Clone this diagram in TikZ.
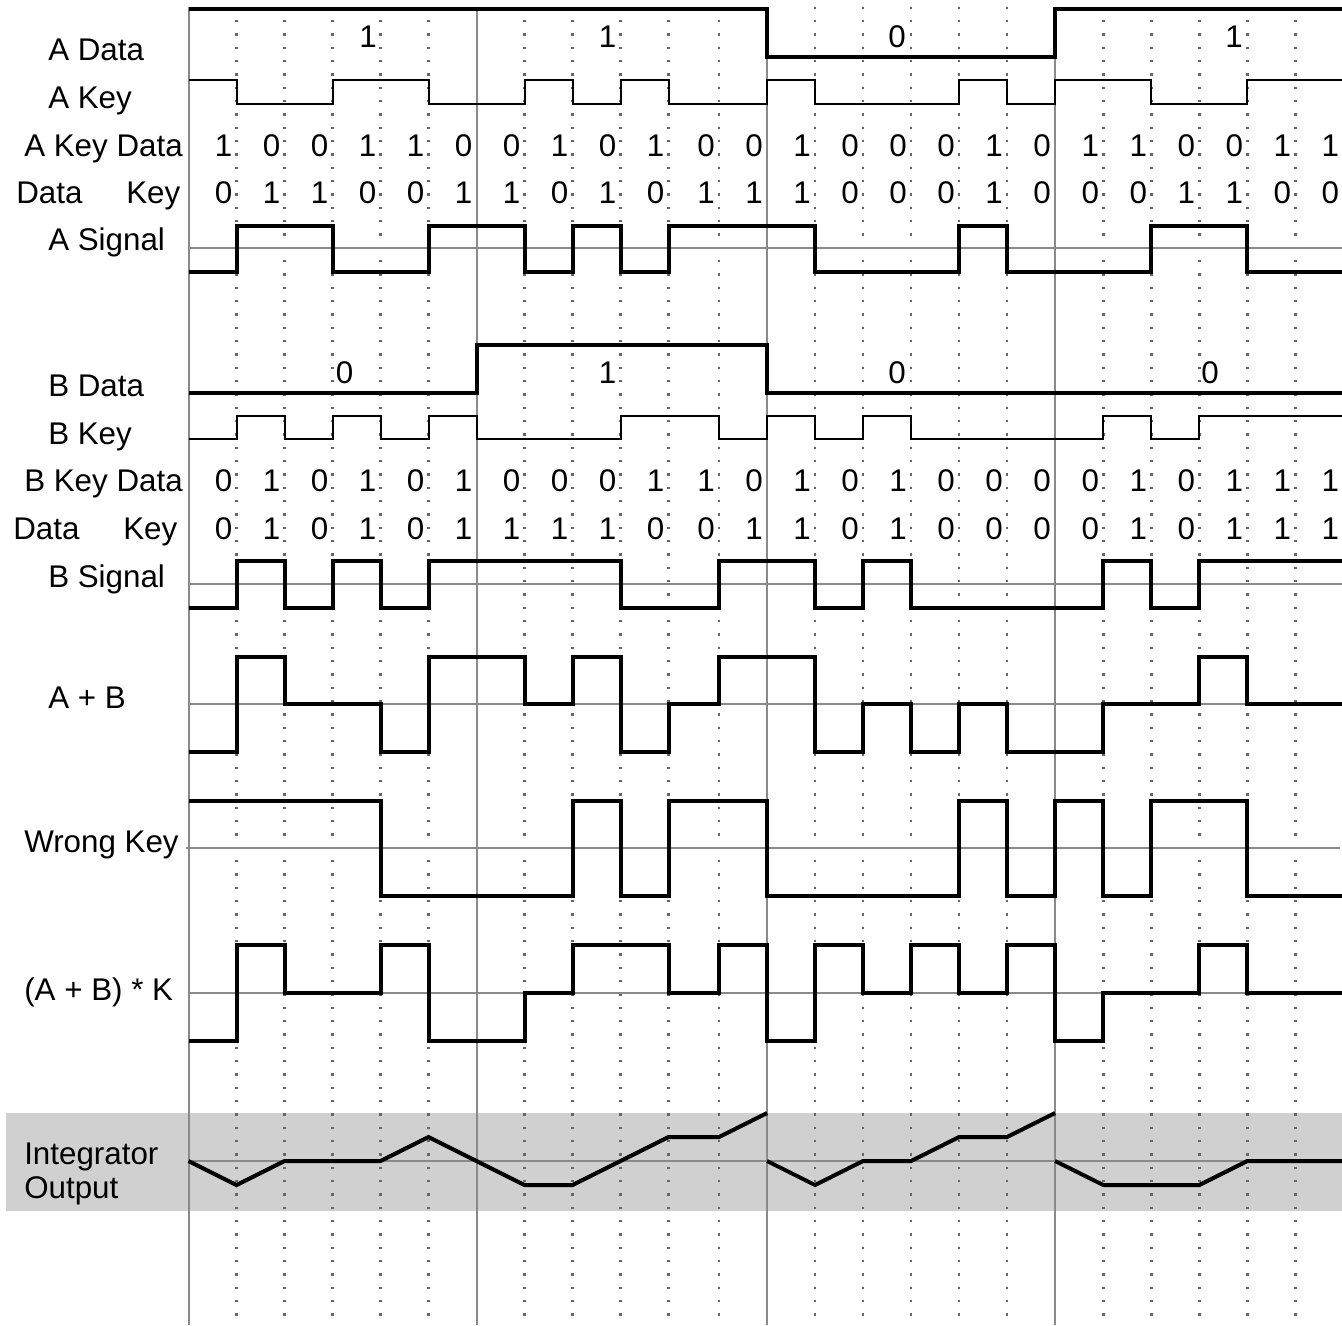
\documentclass[tikz,border=0pt]{standalone}
\usepackage{fontspec}
\setmainfont{Liberation Sans}
\definecolor{gridgray}{HTML}{8A8A8A}
\definecolor{dotgray}{HTML}{666666}
\definecolor{bandgray}{HTML}{D0D0D0}
\begin{document}
\begin{tikzpicture}[x=0.75pt,y=-0.75pt,
  every node/.style={inner sep=0pt,font=\fontsize{23.5}{28}\selectfont},
  lbl/.style={anchor=base west},
  dig/.style={anchor=base},
  sig/.style={draw=black,line width=3pt,line join=miter},
  keysig/.style={draw=black,line width=1.5pt,line join=miter},
  gridline/.style={draw=gridgray,line width=1.5pt},
  midline/.style={draw=gridgray,line width=1.5pt},
  dotline/.style={draw=dotgray,line width=1.8pt,dash pattern=on 1.8pt off 8.2pt}]
\useasboundingbox (0,0) rectangle (1342,1325);
\def\Xarr{{188.5,236.5,284.5,332.5,380.5,428.5,476.5,524.5,572.5,620.5,668.5,719,767,815,863,911,959,1007,1055,1103.3,1151.3,1199.3,1247.3,1295.3,1343.3}}
% integrator band
\fill[bandgray] (6,1113) rectangle (1342,1211);
% grid
\foreach \k in {1,2,3,4,5,7,8,9,10,11,13,14,15,16,17,19,20,21,22,23}{
  \pgfmathsetmacro\xx{\Xarr[\k]}
  \draw[dotline] (\xx,6.5) -- (\xx,1325);
}
\foreach \xx in {188.5,476.5,767,1055}{
  \draw[gridline] (\xx,7) -- (\xx,1325);
}
% midlines
\draw[midline] (188.5,248) -- (1342,248);
\draw[midline] (188.5,584) -- (1342,584);
\draw[midline] (188.5,704) -- (1342,704);
\draw[midline] (186,848) -- (1340,848);
\draw[midline] (188.5,993) -- (1342,993);
\draw[midline] (188.5,1161) -- (1342,1161);
% A Data
\draw[sig] (188.5,9) -- (767,9) -- (767,57) -- (1055,57) -- (1055,9) -- (1342,9);
% A Key
\draw[keysig] (188.5,80) -- (236.5,80) -- (236.5,104) -- (332.5,104) -- (332.5,80) -- (428.5,80) -- (428.5,104)
  -- (524.5,104) -- (524.5,80) -- (572.5,80) -- (572.5,104) -- (620.5,104) -- (620.5,80) -- (668.5,80) -- (668.5,104)
  -- (767,104) -- (767,80) -- (815,80) -- (815,104) -- (959,104) -- (959,80) -- (1007,80) -- (1007,104)
  -- (1055,104) -- (1055,80) -- (1151.3,80) -- (1151.3,104) -- (1247.3,104) -- (1247.3,80) -- (1342,80);
% A Signal
\draw[sig] (188.5,272) -- (236.5,272) -- (236.5,226) -- (332.5,226) -- (332.5,272) -- (428.5,272) -- (428.5,226)
  -- (524.5,226) -- (524.5,272) -- (572.5,272) -- (572.5,226) -- (620.5,226) -- (620.5,272) -- (668.5,272) -- (668.5,226)
  -- (815,226) -- (815,272) -- (959,272) -- (959,226) -- (1007,226) -- (1007,272)
  -- (1151.3,272) -- (1151.3,226) -- (1247.3,226) -- (1247.3,272) -- (1342,272);
% B Data
\draw[sig] (188.5,393) -- (476.5,393) -- (476.5,345) -- (767,345) -- (767,393) -- (1342,393);
% B Key
\draw[keysig] (188.5,439) -- (236.5,439) -- (236.5,416) -- (284.5,416) -- (284.5,439) -- (332.5,439) -- (332.5,416)
  -- (380.5,416) -- (380.5,439) -- (428.5,439) -- (428.5,416) -- (476.5,416) -- (476.5,439)
  -- (620.5,439) -- (620.5,416) -- (719,416) -- (719,439) -- (767,439) -- (767,416) -- (815,416) -- (815,439)
  -- (863,439) -- (863,416) -- (911,416) -- (911,439) -- (1103.3,439) -- (1103.3,416) -- (1151.3,416) -- (1151.3,439)
  -- (1199.3,439) -- (1199.3,416) -- (1342,416);
% B Signal
\draw[sig] (188.5,608) -- (236.5,608) -- (236.5,561) -- (284.5,561) -- (284.5,608) -- (332.5,608) -- (332.5,561)
  -- (380.5,561) -- (380.5,608) -- (428.5,608) -- (428.5,561) -- (620.5,561) -- (620.5,608) -- (719,608) -- (719,561)
  -- (815,561) -- (815,608) -- (863,608) -- (863,561) -- (911,561) -- (911,608) -- (1103.3,608) -- (1103.3,561)
  -- (1151.3,561) -- (1151.3,608) -- (1199.3,608) -- (1199.3,561) -- (1342,561);
% A + B
\draw[sig] (188.5,752) -- (236.5,752) -- (236.5,657) -- (284.5,657) -- (284.5,704) -- (380.5,704) -- (380.5,752)
  -- (428.5,752) -- (428.5,657) -- (524.5,657) -- (524.5,704) -- (572.5,704) -- (572.5,657) -- (620.5,657) -- (620.5,752)
  -- (668.5,752) -- (668.5,704) -- (719,704) -- (719,657) -- (815,657) -- (815,752) -- (863,752) -- (863,704)
  -- (911,704) -- (911,752) -- (959,752) -- (959,704) -- (1007,704) -- (1007,752) -- (1103.3,752) -- (1103.3,704)
  -- (1199.3,704) -- (1199.3,657) -- (1247.3,657) -- (1247.3,704) -- (1342,704);
% Wrong Key
\draw[sig] (188.5,801) -- (380.5,801) -- (380.5,896) -- (572.5,896) -- (572.5,801) -- (620.5,801) -- (620.5,896)
  -- (668.5,896) -- (668.5,801) -- (767,801) -- (767,896) -- (959,896) -- (959,801) -- (1007,801) -- (1007,896)
  -- (1055,896) -- (1055,801) -- (1103.3,801) -- (1103.3,896) -- (1151.3,896) -- (1151.3,801) -- (1247.3,801)
  -- (1247.3,896) -- (1342,896);
% (A + B) * K
\draw[sig] (188.5,1041) -- (236.5,1041) -- (236.5,945) -- (284.5,945) -- (284.5,993) -- (380.5,993) -- (380.5,945)
  -- (428.5,945) -- (428.5,1041) -- (524.5,1041) -- (524.5,993) -- (572.5,993) -- (572.5,945) -- (668.5,945)
  -- (668.5,993) -- (719,993) -- (719,945) -- (767,945) -- (767,1041) -- (815,1041) -- (815,945) -- (863,945)
  -- (863,993) -- (911,993) -- (911,945) -- (959,945) -- (959,993) -- (1007,993) -- (1007,945) -- (1055,945)
  -- (1055,1041) -- (1103.3,1041) -- (1103.3,993) -- (1199.3,993) -- (1199.3,945) -- (1247.3,945) -- (1247.3,993)
  -- (1342,993);
% Integrator output
\draw[sig] (188.5,1161) -- (236.5,1185) -- (284.5,1161) -- (380.5,1161) -- (428.5,1137) -- (476.5,1161)
  -- (524.5,1185) -- (572.5,1185) -- (620.5,1161) -- (668.5,1137) -- (719,1137) -- (767,1113);
\draw[sig] (767,1161) -- (815,1185) -- (863,1161) -- (911,1161) -- (959,1137) -- (1007,1137) -- (1055,1113);
\draw[sig] (1055,1161) -- (1103.3,1185) -- (1199.3,1185) -- (1247.3,1161) -- (1342,1161);
% labels
\node[lbl] (lad) at (48,60) {A Data};
\node[lbl] (lak) at (48,108) {A Key};
\node[lbl] (lakd) at (24,156.5) {A Key Data};
\node[lbl] (ladk1) at (16,203) {Data};
\node[lbl] (ladk2) at (126,203) {Key};
\node[lbl] (las) at (48,250.5) {A Signal};
\node[lbl] (lbd) at (48,396) {B Data};
\node[lbl] (lbk) at (48,444) {B Key};
\node[lbl] (lbkd) at (24,491.5) {B Key Data};
\node[lbl] (lbdk1) at (13,539) {Data};
\node[lbl] (lbdk2) at (123,539) {Key};
\node[lbl] (lbs) at (48,587) {B Signal};
\node[lbl] (lab) at (48,708) {A + B};
\node[lbl] (lwk) at (24,852) {Wrong Key};
\node[lbl] (labk) at (24,1000) {(A + B) * K};
\node[lbl] (lint) at (24,1164) {Integrator};
\node[lbl] (lout) at (24,1198) {Output};
% data bits
\node[dig] (ad1) at (368,47) {1};
\node[dig] (ad2) at (607.5,47) {1};
\node[dig] (ad3) at (897,47) {0};
\node[dig] (ad4) at (1234,47) {1};
\node[dig] (bd1) at (344.5,383) {0};
\node[dig] (bd2) at (607.5,383) {1};
\node[dig] (bd3) at (897,383) {0};
\node[dig] (bd4) at (1210,383) {0};
% digit rows
\foreach \d [count=\k] in {1,0,0,1,1,0,0,1,0,1,0,0,1,0,0,0,1,0,1,1,0,0,1,1}{
  \pgfmathsetmacro\xx{\Xarr[\k]-13}
  \node[dig] (akd\k) at (\xx,156.5) {\d};
}
\foreach \d [count=\k] in {0,1,1,0,0,1,1,0,1,0,1,1,1,0,0,0,1,0,0,0,1,1,0,0}{
  \pgfmathsetmacro\xx{\Xarr[\k]-13}
  \node[dig] (adk\k) at (\xx,203) {\d};
}
\foreach \d [count=\k] in {0,1,0,1,0,1,0,0,0,1,1,0,1,0,1,0,0,0,0,1,0,1,1,1}{
  \pgfmathsetmacro\xx{\Xarr[\k]-13}
  \node[dig] (bkd\k) at (\xx,491.5) {\d};
}
\foreach \d [count=\k] in {0,1,0,1,0,1,1,1,1,0,0,1,1,0,1,0,0,0,0,1,0,1,1,1}{
  \pgfmathsetmacro\xx{\Xarr[\k]-13}
  \node[dig] (bdk\k) at (\xx,539) {\d};
}
\end{tikzpicture}
\end{document}
